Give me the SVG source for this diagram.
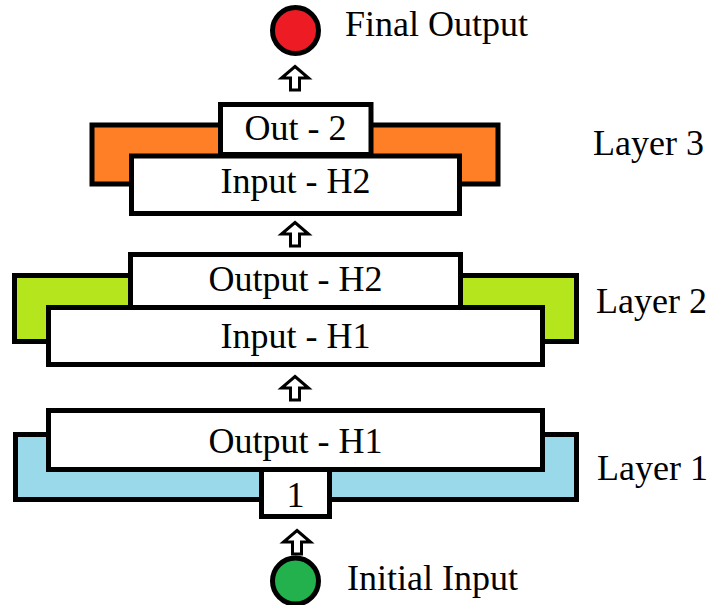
<svg xmlns="http://www.w3.org/2000/svg" width="711" height="605" viewBox="0 0 711 605">
<style>
.box{fill:#ffffff;stroke:#000000;stroke-width:5}
.frame{stroke:#000000;stroke-width:5}
.t{font-family:"Liberation Serif","Times New Roman",serif;font-size:36px;fill:#000000}
.c{text-anchor:middle}
.e{text-anchor:end}
.arr{fill:#ffffff;stroke:#000000;stroke-width:3;stroke-linejoin:miter}
</style>
<defs>
<path id="arrow" class="arr" d="M0,1.5 L13.5,13 L4.5,13 L4.5,25 L-4.5,25 L-4.5,13 L-13.5,13 Z"/>
</defs>
<rect width="711" height="605" fill="#ffffff"/>

<g id="layer3">
<rect class="frame" x="92" y="125" width="406" height="59" fill="#FF7F27"/>
<text class="t" x="593" y="155">Layer 3</text>
</g>
<g id="out-2">
<rect class="box" x="220.5" y="104.5" width="150.5" height="50"/>
<text class="t c" x="295.5" y="140">Out - 2</text>
</g>
<g id="input-h2">
<rect class="box" x="131.5" y="156" width="328" height="57.5"/>
<text class="t c" x="295.5" y="193">Input - H2</text>
</g>

<g id="layer2">
<rect class="frame" x="14.5" y="275.5" width="562" height="66" fill="#B5E61D"/>
<text class="t" x="596" y="313">Layer 2</text>
</g>
<g id="output-h2">
<rect class="box" x="130.5" y="254.5" width="330" height="53"/>
<text class="t c" x="295.5" y="291">Output - H2</text>
</g>
<g id="input-h1">
<rect class="box" x="48.5" y="307.5" width="494" height="57"/>
<text class="t c" x="295.5" y="348">Input - H1</text>
</g>

<g id="layer1">
<rect class="frame" x="15.5" y="434.5" width="561" height="65" fill="#99D9EA"/>
<text class="t e" x="708" y="480">Layer 1</text>
</g>
<g id="input-1">
<rect class="box" x="261.5" y="468" width="68" height="48.5"/>
<text class="t c" x="295.5" y="507">1</text>
</g>
<g id="output-h1">
<rect class="box" x="48.5" y="410.5" width="494" height="59"/>
<text class="t c" x="295.5" y="453">Output - H1</text>
</g>

<g id="final-output">
<circle cx="295.5" cy="30.5" r="23" fill="#ED1C24" stroke="#000000" stroke-width="5"/>
<text class="t" x="345" y="36">Final Output</text>
</g>
<g id="initial-input">
<circle cx="295.5" cy="581" r="23" fill="#22B14C" stroke="#000000" stroke-width="5"/>
<text class="t" x="347" y="590">Initial Input</text>
</g>

<g id="connectors">
<use href="#arrow" x="295" y="65"/>
<use href="#arrow" x="295" y="221"/>
<use href="#arrow" x="295" y="375"/>
<use href="#arrow" x="297" y="529"/>
</g>
</svg>
